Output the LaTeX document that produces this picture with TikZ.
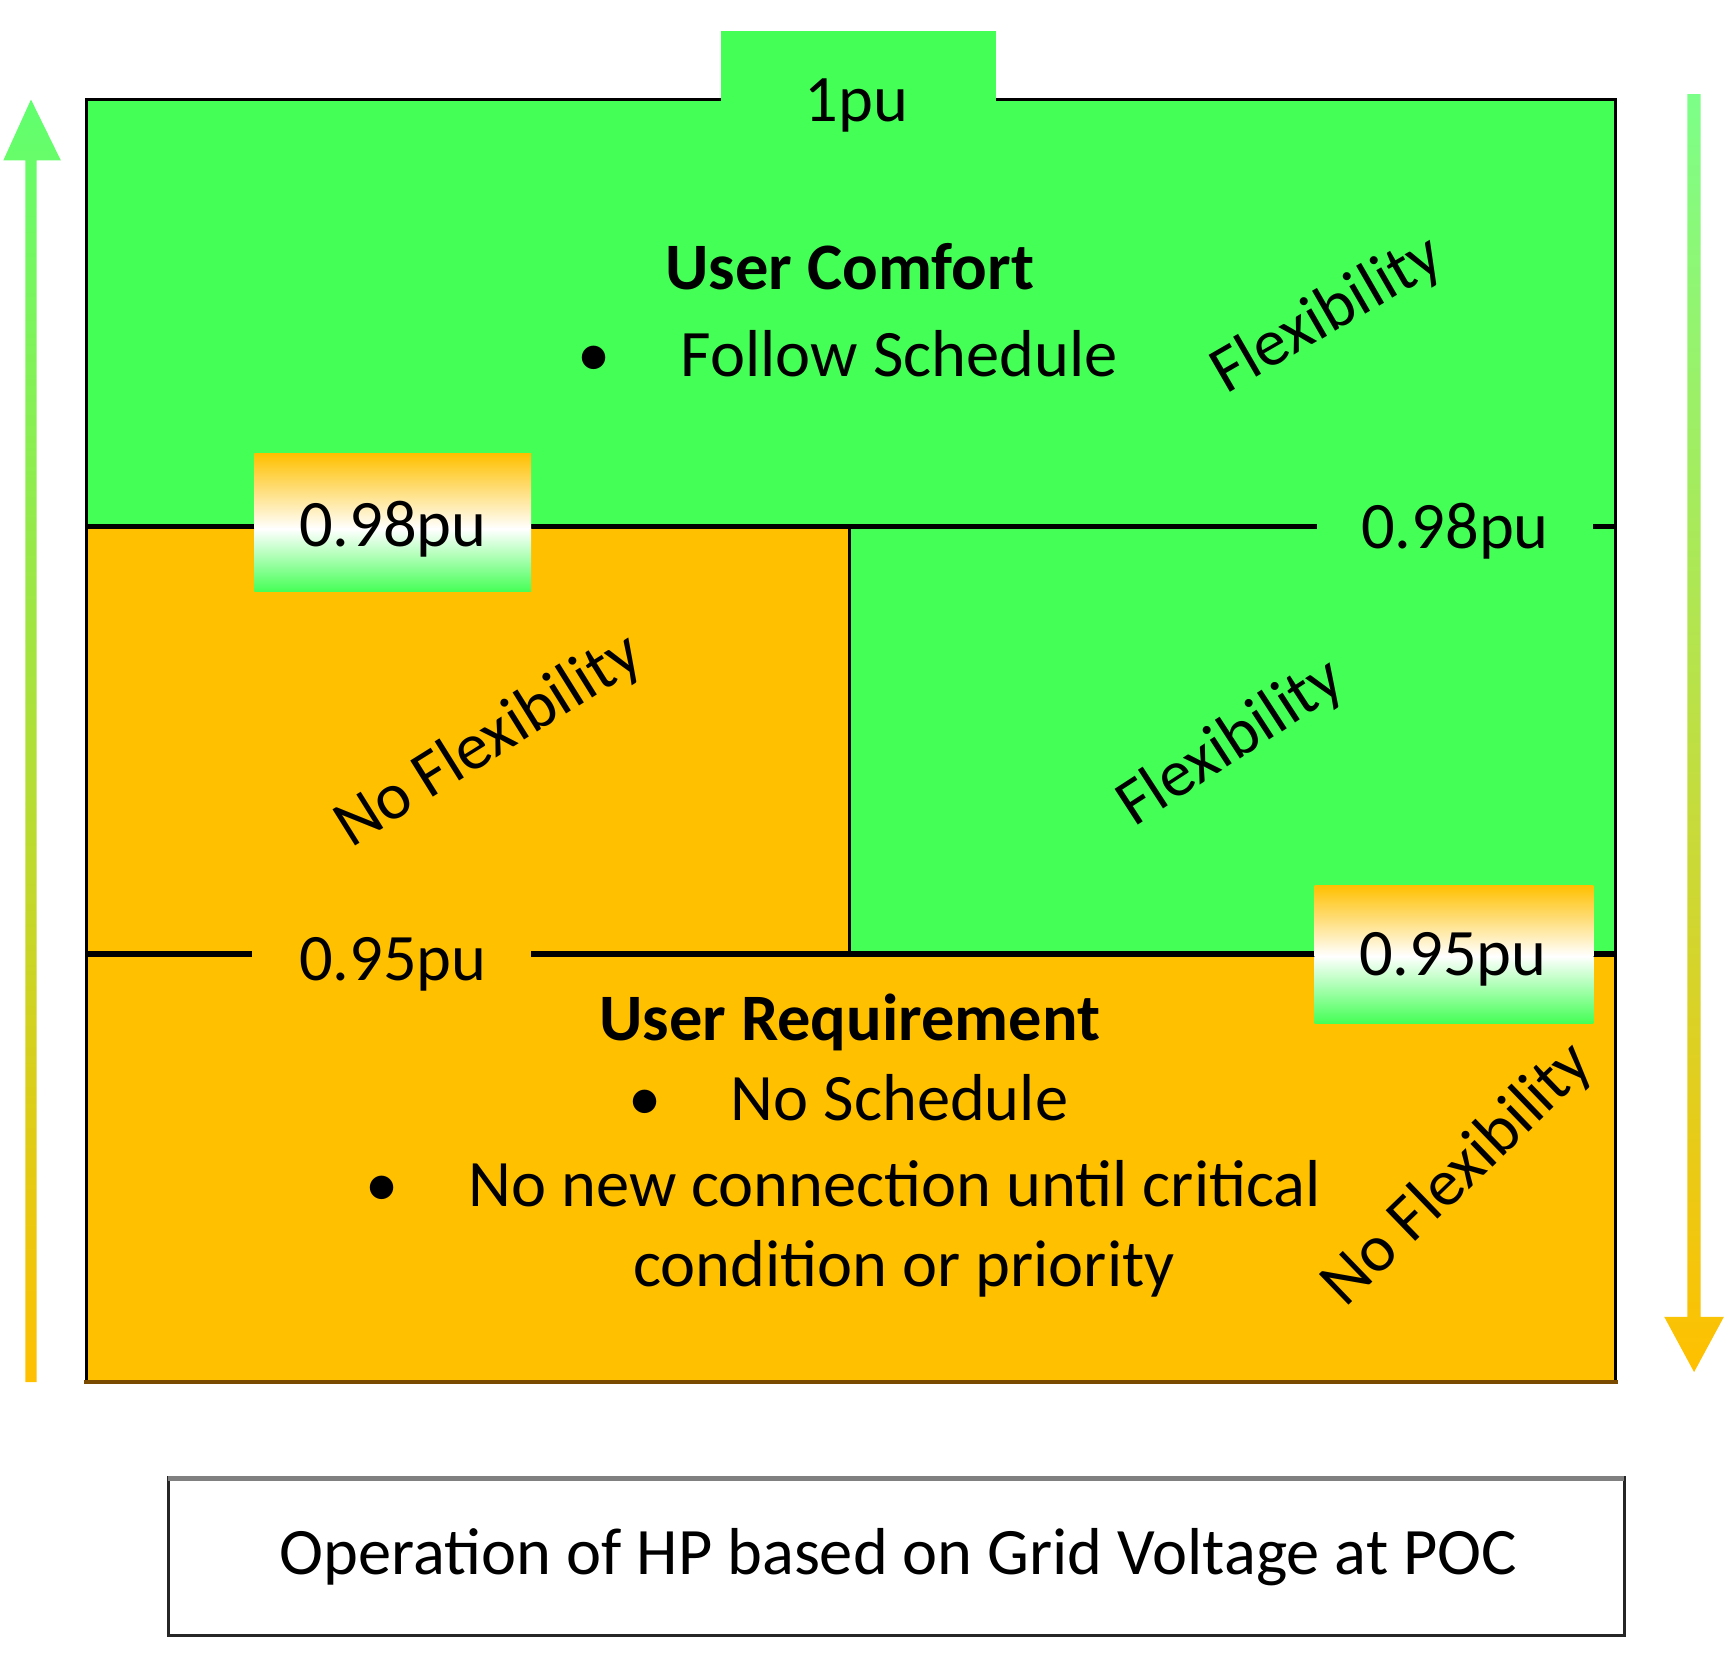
\documentclass[tikz,border=0pt]{standalone}
\usepackage{fontspec}
\setmainfont{Carlito}
\definecolor{gr}{HTML}{44FF55}
\definecolor{org}{HTML}{FFC000}
\definecolor{brn}{HTML}{7A4A00}
\begin{document}
\begin{tikzpicture}[x=0.5pt,y=-0.5pt,
  every node/.style={font=\fontsize{30}{36}\selectfont, inner sep=0pt},
  bold/.style={font=\fontsize{30}{36}\selectfont\bfseries},
  level/.style={line width=2.5pt, black},
  rot/.style={anchor=center}]
\useasboundingbox (0,0) rectangle (1568,1514);
% regions
\fill[gr] (78,90) rectangle (1460,476);
\fill[org] (78,476) rectangle (768,862);
\fill[gr] (768,476) rectangle (1460,862);
\fill[org] (78,862) rectangle (1460,1249);
% border
\draw[line width=1.6pt, black] (78,1249) -- (78,90) -- (1460,90) -- (1460,1249);
\draw[line width=2pt, brn] (76,1249) -- (1462,1249);
% level lines
\draw[level] (78,476) -- (230,476);
\draw[level] (480,476) -- (1190,476);
\draw[level] (1440,476) -- (1460,476);
\draw[level] (78,862) -- (228,862);
\draw[level] (480,862) -- (1188,862);
\draw[level] (1440,862) -- (1460,862);
\draw[line width=1.5pt, black] (768,476) -- (768,862);
% gradient label boxes
\shade[top color=org, bottom color=white] (230,410) rectangle (480,478);
\shade[top color=white, bottom color=gr] (230,478) rectangle (480,535);
\shade[top color=org, bottom color=white] (1188,800) rectangle (1440,864);
\shade[top color=white, bottom color=gr] (1188,864) rectangle (1440,925);
% top tab
\fill[gr] (652,28) rectangle (900,92);
% texts
\node[anchor=base] (p1) at (774,110) {1pu};
\node[bold, anchor=base] (uc) at (768,262) {User Comfort};
\node[anchor=base] (b1) at (537,340) {\textbullet};
\node[anchor=base west] (fs) at (615,340) {Follow Schedule};
\node[rotate=30] (fx1) at (1200,285) {Flexibility};
\node[anchor=base] (l98a) at (355,494) {0.98pu};
\node[anchor=base] (l98b) at (1315,496) {0.98pu};
\node[rotate=32] (nf1) at (442,670) {No Flexibility};
\node[rotate=33] (fx2) at (1113,672) {Flexibility};
\node[anchor=base] (l95a) at (355,886) {0.95pu};
\node[anchor=base] (l95b) at (1313,882) {0.95pu};
\node[bold, anchor=base] (ur) at (768,940) {User Requirement};
\node[anchor=base] (b2) at (583,1013) {\textbullet};
\node[anchor=base west] (ns) at (660,1013) {No Schedule};
\node[anchor=base] (b3) at (345,1090) {\textbullet};
\node[anchor=base west] (nc) at (423,1090) {No new connection until critical};
\node[anchor=base] (cp) at (817,1163) {condition or priority};
\node[rotate=44] (nf2) at (1318,1062) {No Flexibility};
% arrows
\shade[top color=gr!85, bottom color=org]
  (23,1249) -- (23,145) -- (3,145) -- (28,90) -- (55,145) -- (33,145) -- (33,1249) -- cycle;
\shade[top color=gr!70, bottom color=org]
  (1525,85) -- (1525,1190) -- (1504,1190) -- (1531,1240) -- (1558,1190) -- (1537,1190) -- (1537,85) -- cycle;
% bottom box
\draw[draw=black!85, fill=white, line width=1.5pt] (152,1335) rectangle (1468,1478);
\draw[line width=2.5pt, gray] (152,1336) -- (1468,1336);
\node (cap) at (812,1407) {Operation of HP based on Grid Voltage at POC};
\end{tikzpicture}
\end{document}
